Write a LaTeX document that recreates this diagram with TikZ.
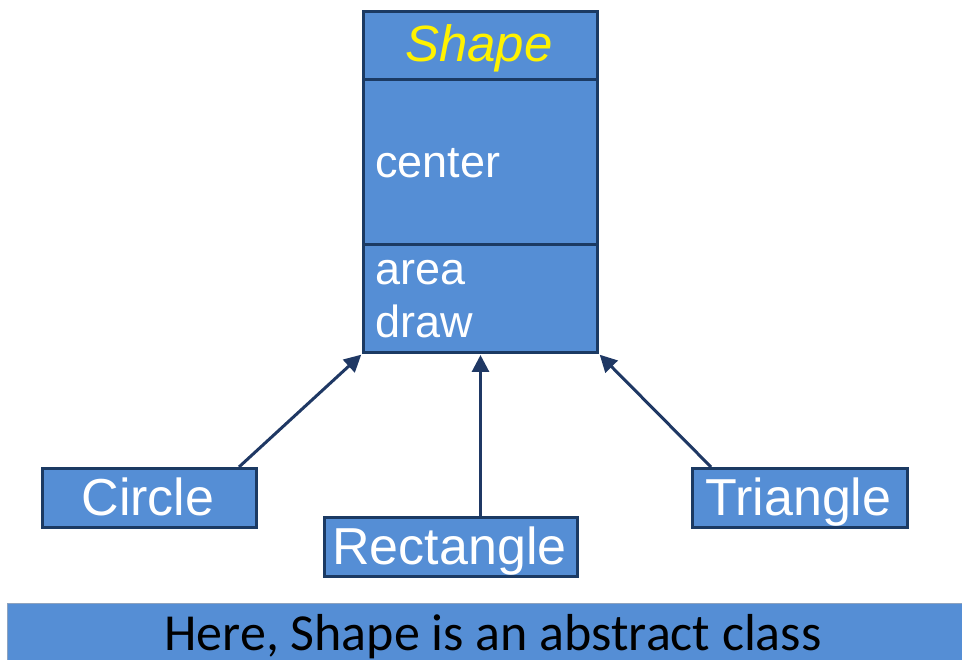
\documentclass[tikz,border=0pt]{standalone}
\usepackage{fontspec}
\setmainfont{Liberation Sans}
\newfontfamily\calib{Carlito}
\usetikzlibrary{arrows.meta,calc}
\definecolor{boxfill}{HTML}{558ED5}
\definecolor{boxline}{HTML}{1B3A63}
\definecolor{arrline}{HTML}{1F3864}
\definecolor{bannerline}{HTML}{8EA3BF}
\tikzset{
  umlbox/.style={draw=boxline,line width=3pt,fill=boxfill,inner sep=0pt,anchor=north west},
  label txt/.style={text=white,font=\fontsize{45}{53}\selectfont,inner sep=0pt},
  sub txt/.style={text=white,font=\fontsize{52}{60}\selectfont,inner sep=0pt,anchor=base},
  arr/.style={draw=arrline,line width=3pt,-{Triangle[length=17pt,width=17pt]},shorten >=1pt}
}
\begin{document}
\begin{tikzpicture}[x=1pt,y=-1pt]
\useasboundingbox (0,0) rectangle (962,660);
\clip (0,0) rectangle (962,660);
% Shape class
\node[umlbox,minimum width=234pt,minimum height=68pt] (title) at (362,10) {};
\node[umlbox,minimum width=234pt,minimum height=165pt] (attrs) at (362,78) {};
\node[umlbox,minimum width=234pt,minimum height=108pt] (ops) at (362,243) {};
\node[label txt,text=yellow,font=\fontsize{51}{60}\selectfont\itshape,anchor=base] (ttext) at (479,62) {Shape};
\node[label txt,anchor=base west] (center) at (375,178) {center};
\node[label txt,anchor=base west] (area) at (375,285) {area};
\node[label txt,anchor=base west] (draw) at (375,338) {draw};
% subclasses
\node[umlbox,minimum width=214pt,minimum height=59pt] (circle) at (41,467) {};
\node[sub txt] (ctext) at (148,515) {Circle};
\node[umlbox,minimum width=253pt,minimum height=59pt] (rect) at (323,516) {};
\node[sub txt] (rtext) at (449.5,564) {Rectangle};
\node[umlbox,minimum width=215pt,minimum height=59pt] (tri) at (691,467) {};
\node[sub txt] (ttext2) at (798.5,515) {Triangle};
% arrows
\draw[arr] ($(circle.north east)+(-19,0)$) -- (ops.south west);
\draw[arr] (rect.north -| ops.south) -- (ops.south);
\draw[arr] ($(tri.north west)+(20,0)$) -- (ops.south east);
% banner
\node[draw=bannerline,line width=1pt,fill=boxfill,minimum width=980pt,minimum height=70pt,inner sep=0pt,anchor=north west] (banner) at (7,603) {};
\node[inner sep=0pt,anchor=base,font=\calib\fontsize{52}{60}\selectfont] (btext) at (493,650) {Here, Shape is an abstract class};
\end{tikzpicture}
\end{document}
